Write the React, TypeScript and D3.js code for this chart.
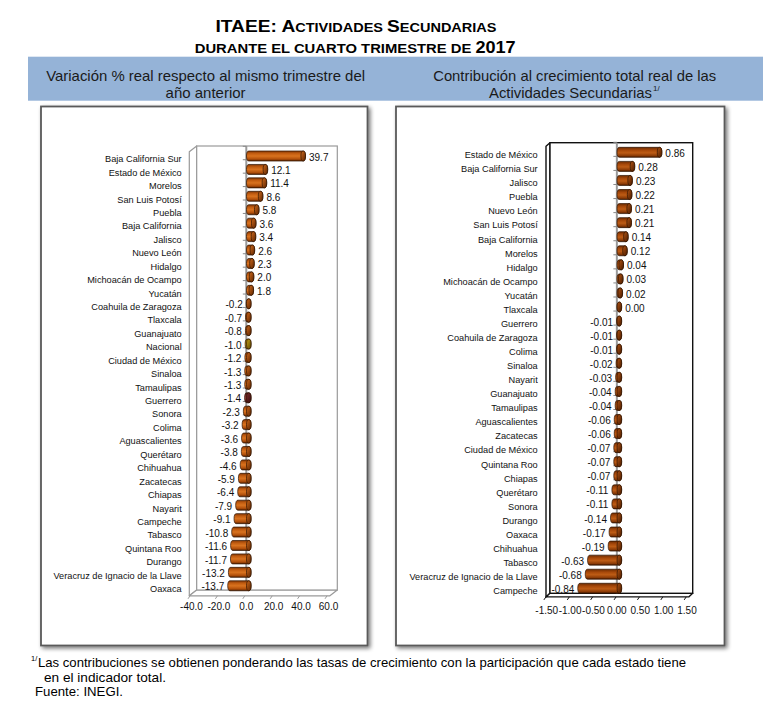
import React from "react";
import * as d3 from "d3";

const leftCats = [
  "Baja California Sur", "Estado de México", "Morelos", "San Luis Potosí", "Puebla",
  "Baja California", "Jalisco", "Nuevo León", "Hidalgo", "Michoacán de Ocampo", "Yucatán",
  "Coahuila de Zaragoza", "Tlaxcala", "Guanajuato", "Nacional", "Ciudad de México", "Sinaloa",
  "Tamaulipas", "Guerrero", "Sonora", "Colima", "Aguascalientes", "Querétaro", "Chihuahua",
  "Zacatecas", "Chiapas", "Nayarit", "Campeche", "Tabasco", "Quintana Roo", "Durango",
  "Veracruz de Ignacio de la Llave", "Oaxaca",
];
const leftVals = [
  39.7, 12.1, 11.4, 8.6, 5.8, 3.6, 3.4, 2.6, 2.3, 2.0, 1.8, -0.2, -0.7, -0.8, -1.0, -1.2, -1.3,
  -1.3, -1.4, -2.3, -3.2, -3.6, -3.8, -4.6, -5.9, -6.4, -7.9, -9.1, -10.8, -11.6, -11.7, -13.2, -13.7,
];
const leftTicks = [-40, -20, 0, 20, 40, 60];

const rightCats = [
  "Estado de México", "Baja California Sur", "Jalisco", "Puebla", "Nuevo León", "San Luis Potosí",
  "Baja California", "Morelos", "Hidalgo", "Michoacán de Ocampo", "Yucatán", "Tlaxcala", "Guerrero",
  "Coahuila de Zaragoza", "Colima", "Sinaloa", "Nayarit", "Guanajuato", "Tamaulipas",
  "Aguascalientes", "Zacatecas", "Ciudad de México", "Quintana Roo", "Chiapas", "Querétaro",
  "Sonora", "Durango", "Oaxaca", "Chihuahua", "Tabasco", "Veracruz de Ignacio de la Llave", "Campeche",
];
const rightVals = [
  0.86, 0.28, 0.23, 0.22, 0.21, 0.21, 0.14, 0.12, 0.04, 0.03, 0.02, 0.0, -0.01, -0.01, -0.01, -0.02,
  -0.03, -0.04, -0.04, -0.06, -0.06, -0.07, -0.07, -0.07, -0.11, -0.11, -0.14, -0.17, -0.19, -0.63,
  -0.68, -0.84,
];
const rightTicks = [-1.5, -1.0, -0.5, 0, 0.5, 1.0, 1.5];

const locale = d3.formatLocale({ decimal: ".", thousands: ",", grouping: [3], currency: ["", ""], minus: "-" });
const fmt1 = locale.format(".1f");
const fmt2 = locale.format(".2f");

const FONT = "'Liberation Sans', Arial, sans-serif";

type Frame = { x0: number; x1: number; y0: number; y1: number; dx: number; dy: number; stroke: string; sw: number };

function Chart(props: {
  id: string;
  cats: string[];
  vals: number[];
  ticks: number[];
  fmt: (n: number) => string;
  domain: [number, number];
  tickRange: [number, number];
  bandRange: [number, number];
  pad: number;
  frame: Frame;
  labelX: number;
  labelDy: number;
  tickLabelY: number;
  grad: string;
  special?: Record<string, string>;
}) {
  const { cats, vals, frame: f } = props;
  const T = d3.scaleLinear().domain(props.domain).range(props.tickRange);
  const B = d3.scaleLinear().domain(props.domain).range([props.tickRange[0] + 2.5, props.tickRange[1] + 2.5]);
  const Y = d3.scaleBand<string>().domain(cats).range(props.bandRange).paddingInner(props.pad).paddingOuter(props.pad / 2);
  const h = Y.bandwidth();
  const rx = 2.3;
  const ry = h / 2;
  const z = T(0);
  const step = Y.step();
  const n = cats.length;
  return (
    <g>
      <polygon
        points={`${f.x0 + f.dx},${f.y0 + f.dy} ${f.x0},${f.y0} ${f.x0},${f.y1} ${f.x0 + f.dx},${f.y1 + f.dy}`}
        fill="#fff" stroke={f.stroke} strokeWidth={f.sw} strokeLinejoin="round"
      />
      <polygon
        points={`${f.x0 + f.dx},${f.y1 + f.dy} ${f.x0},${f.y1} ${f.x1},${f.y1} ${f.x1 + f.dx},${f.y1 + f.dy}`}
        fill="#fff" stroke={f.stroke} strokeWidth={f.sw} strokeLinejoin="round"
      />
      <rect x={f.x0} y={f.y0} width={f.x1 - f.x0} height={f.y1 - f.y0} fill="#fff" stroke={f.stroke} strokeWidth={f.sw} />
      <line x1={z} x2={z} y1={f.y0} y2={f.y1} stroke="#9a9a9a" strokeWidth={2} />
      {d3.range(n + 1).map((i) => {
        const yy = props.bandRange[0] + i * step - 3;
        return <line key={"rt" + i} x1={z - 3.5} x2={z} y1={yy} y2={yy} stroke="#8a8a8a" strokeWidth={1} />;
      })}
      {props.ticks.map((t) => (
        <line key={"ft" + t} x1={T(t) + f.dx * 0.2} x2={T(t) + f.dx * 0.2 - 2} y1={f.y1 + f.dy} y2={f.y1 + f.dy + 3} stroke={f.stroke} strokeWidth={1} />
      ))}
      {props.ticks.map((t) => (
        <text key={"tl" + t} x={T(t)} y={props.tickLabelY} textAnchor="middle" fontSize={10} fontFamily={FONT} fill="#111">
          {props.fmt(t)}
        </text>
      ))}
      {cats.map((c, i) => {
        const v = vals[i];
        const a = B(Math.min(0, v));
        const b = B(Math.max(0, v));
        const cy = (Y(c) as number) + h / 2;
        const top = cy - ry;
        const bot = cy + ry;
        const g = props.special && props.special[c] ? props.special[c] : props.grad;
        const d = `M${a},${top} L${b},${top} A${rx},${ry} 0 0 1 ${b},${bot} L${a},${bot} A${rx},${ry} 0 0 1 ${a},${top} Z`;
        const lx = v >= 0 ? b + rx + 3.5 : a - rx - 3.5;
        return (
          <g key={"b" + c}>
            <path d={d} fill={`url(#${g})`} stroke="#2e1200" strokeWidth={0.7} />
            <ellipse cx={b} cy={cy} rx={rx} ry={ry} fill={`url(#${g}c)`} stroke="#2e1200" strokeWidth={0.7} />
            <text x={lx} y={cy + 4.6} textAnchor={v >= 0 ? "start" : "end"} fontSize={10} fontFamily={FONT} fill="#111">
              {props.fmt(v)}
            </text>
          </g>
        );
      })}
      {cats.map((c) => (
        <text key={"c" + c} x={props.labelX} y={(Y(c) as number) + h / 2 + props.labelDy} textAnchor="end" fontSize={9.2} fontFamily={FONT} fill="#111">
          {c}
        </text>
      ))}
    </g>
  );
}

function Grad({ id, stops, cap }: { id: string; stops: [number, string][]; cap: string }) {
  return (
    <>
      <linearGradient id={id} x1="0" y1="0" x2="0" y2="1">
        {stops.map(([o, c], i) => (
          <stop key={i} offset={o} stopColor={c} />
        ))}
      </linearGradient>
      <linearGradient id={id + "c"} x1="0" y1="0" x2="1" y2="1">
        <stop offset={0} stopColor={cap} />
        <stop offset={1} stopColor={stops[stops.length - 1][1]} />
      </linearGradient>
    </>
  );
}

export default function App() {
  return (
    <svg
      width={763}
      height={715}
      viewBox="0 0 763 715"
      style={{ position: "absolute", left: 0, top: 0, background: "#fff" }}
      fontFamily={FONT}
    >
      <defs>
        <filter id="shadow" x="-10%" y="-10%" width="120%" height="120%">
          <feGaussianBlur in="SourceAlpha" stdDeviation="2" />
          <feOffset dx="2" dy="2" result="ob" />
          <feComponentTransfer>
            <feFuncA type="linear" slope="0.55" />
          </feComponentTransfer>
          <feMerge>
            <feMergeNode />
            <feMergeNode in="SourceGraphic" />
          </feMerge>
        </filter>
        <Grad id="gL" stops={[[0, "#843806"], [0.25, "#c25c10"], [0.5, "#d9731f"], [0.8, "#b2500b"], [1, "#5c2400"]]} cap="#d06a1c" />
        <Grad id="gR" stops={[[0, "#6e2c02"], [0.3, "#a8490a"], [0.55, "#bd5c15"], [0.85, "#8a3a06"], [1, "#4a1c00"]]} cap="#b05212" />
        <Grad id="gN" stops={[[0, "#7a6000"], [0.3, "#c09a10"], [0.55, "#d8b228"], [1, "#5a4400"]]} cap="#c8a418" />
        <Grad id="gG" stops={[[0, "#4a1414"], [0.3, "#7e2e2e"], [0.55, "#8e3a3a"], [1, "#3a0e0e"]]} cap="#7a2c2c" />
      </defs>

      <text x={356} y={32.3} textAnchor="middle" fontWeight="bold" fill="#000" textLength={281} lengthAdjust="spacingAndGlyphs">
        <tspan fontSize={16.5}>ITAEE: A</tspan>
        <tspan fontSize={12.5}>CTIVIDADES </tspan>
        <tspan fontSize={16.5}>S</tspan>
        <tspan fontSize={12.5}>ECUNDARIAS</tspan>
      </text>
      <text x={355.2} y={53} textAnchor="middle" fontWeight="bold" fill="#000" textLength={321} lengthAdjust="spacingAndGlyphs">
        <tspan fontSize={13.5}>DURANTE EL CUARTO TRIMESTRE DE </tspan>
        <tspan fontSize={16.5}>2017</tspan>
      </text>

      <rect x={28} y={56.7} width={735} height={44} fill="#95b3d7" />
      <text x={205.6} y={81} textAnchor="middle" fontSize={15} fill="#1a1a1a" textLength={318.8} lengthAdjust="spacingAndGlyphs">
        Variación % real respecto al mismo trimestre del
      </text>
      <text x={205.6} y={97.5} textAnchor="middle" fontSize={15} fill="#1a1a1a" textLength={80} lengthAdjust="spacingAndGlyphs">
        año anterior
      </text>
      <text x={574.7} y={81} textAnchor="middle" fontSize={15} fill="#1a1a1a" textLength={283} lengthAdjust="spacingAndGlyphs">
        Contribución al crecimiento total real de las
      </text>
      <text x={489} y={97.5} fontSize={15} fill="#1a1a1a" textLength={163} lengthAdjust="spacingAndGlyphs">
        Actividades Secundarias
      </text>
      <text x={653} y={91} fontSize={8} fill="#1a1a1a">1/</text>

      <rect x={41} y={106.5} width={326.5} height={539} fill="#fff" stroke="#5a5a5a" strokeWidth={1.8} filter="url(#shadow)" />
      <rect x={396} y={106.5} width={328.5} height={539} fill="#fff" stroke="#5a5a5a" strokeWidth={1.8} filter="url(#shadow)" />

      <Chart
        id="L"
        cats={leftCats}
        vals={leftVals}
        ticks={leftTicks}
        fmt={fmt1}
        domain={[-40, 60]}
        tickRange={[191.5, 328.5]}
        bandRange={[149.3, 592.5]}
        pad={0.255}
        frame={{ x0: 196.7, x1: 337.3, y0: 146, y1: 590, dx: -7.4, dy: 5.8, stroke: "#9a9a9a", sw: 1.2 }}
        labelX={181.7}
        labelDy={6.3}
        tickLabelY={609.5}
        grad="gL"
        special={{ Nacional: "gN", Guerrero: "gG" }}
      />
      <Chart
        id="R"
        cats={rightCats}
        vals={rightVals}
        ticks={rightTicks}
        fmt={fmt2}
        domain={[-1.5, 1.5]}
        tickRange={[546.7, 687]}
        bandRange={[145.3, 595.3]}
        pad={0.29}
        frame={{ x0: 550, x1: 692.7, y0: 142.7, y1: 593.3, dx: -4, dy: 3.6, stroke: "#111", sw: 1.4 }}
        labelX={537.7}
        labelDy={5.8}
        tickLabelY={613.5}
        grad="gR"
      />

      <text x={31} y={661} fontSize={7.5} fill="#000">1/</text>
      <text x={38} y={667} fontSize={13.5} fill="#000" textLength={648} lengthAdjust="spacingAndGlyphs">
        Las contribuciones se obtienen ponderando las tasas de crecimiento con la participación que cada estado tiene
      </text>
      <text x={44} y={681.5} fontSize={13.5} fill="#000" textLength={122} lengthAdjust="spacingAndGlyphs">
        en el indicador total.
      </text>
      <text x={35} y={696} fontSize={13.5} fill="#000" textLength={88} lengthAdjust="spacingAndGlyphs">
        Fuente: INEGI.
      </text>
    </svg>
  );
}
